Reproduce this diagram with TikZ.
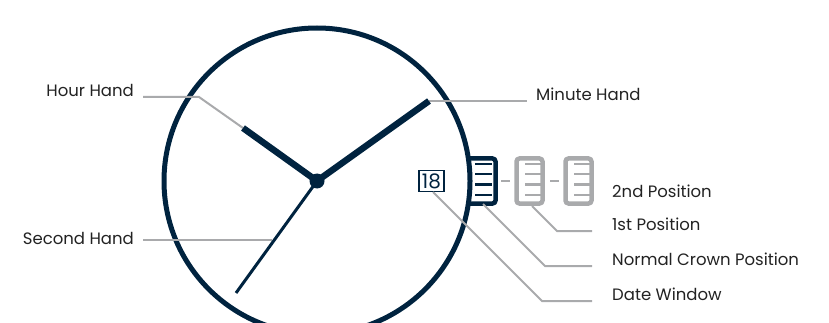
\documentclass[tikz,border=0pt]{standalone}
\usepackage{fontspec}
\setmainfont{Poppins}
\definecolor{navy}{HTML}{00233F}
\definecolor{lead}{HTML}{A9AAAC}
\definecolor{txt}{HTML}{222222}
\tikzset{
  x=1pt,y=-1pt,
  ring/.style={draw=navy,line width=5pt},
  leader/.style={draw=lead,line width=2pt},
  lab/.style={anchor=base west,inner sep=0pt,text=txt,font=\fontsize{16.5}{18}\selectfont},
  labr/.style={lab,anchor=base east},
  handhm/.style={draw=navy,line width=6.5pt},
  handsec/.style={draw=navy,line width=3pt},
  bar/.style={line width=2pt},
}
\newcommand{\crownbars}[2]{%
  \foreach \yy in {164.5,174.5,184.5,194.5}{\draw[bar,draw=#2] (#1+5,\yy) -- (#1+22,\yy);}%
}
\begin{document}
\begin{tikzpicture}
\useasboundingbox (0,0) rectangle (829,323);
\begin{scope}
\clip (0,0) rectangle (829,323);
\coordinate (hub) at (317,181);
\node[circle,draw=navy,line width=5pt,minimum size=306pt,inner sep=0pt] (dial) at (hub) {};
\end{scope}
% leaders
\coordinate (hl1) at (143,97); \coordinate (hl2) at (199,97); \coordinate (hl3) at (243,128);
\draw[leader] (hl1) -- (hl2) -- (hl3);
\coordinate (ml1) at (429,101); \coordinate (ml2) at (527,101);
\draw[leader] (ml1) -- (ml2);
\coordinate (sl1) at (143,240); \coordinate (sl2) at (272,240);
\draw[leader] (sl1) -- (sl2);
% hands
\draw[handhm] (hub) -- (243,128);
\draw[handhm] (hub) -- (429,101);
\draw[handsec] (hub) -- (236,293);
\fill[navy] (hub) circle (7.5);
% crowns
\draw[navy,line width=4.5pt,rounded corners=3pt] (470,158.5) -- (495.5,158.5) -- (495.5,203.5) -- (470,203.5);
\crownbars{470}{navy}
\node[draw=lead,line width=4.5pt,rounded corners=3pt,minimum width=26pt,minimum height=45pt,inner sep=0pt] (c1) at (529.5,181) {};
\crownbars{520}{lead}
\node[draw=lead,line width=4.5pt,rounded corners=3pt,minimum width=26pt,minimum height=45pt,inner sep=0pt] (c2) at (578.5,181) {};
\crownbars{569}{lead}
\draw[lead,line width=2.5pt] (501,181) -- (510,181);
\draw[lead,line width=2.5pt] (550,181) -- (559,181);
% date
\node[draw=navy,line width=1.5pt,minimum width=25pt,minimum height=21pt,inner sep=0pt,font=\fontsize{20}{20}\selectfont,text=navy] (date) at (431.5,181) {18};
% lower leaders
\coordinate (a1) at (532,206); \coordinate (a2) at (557,231); \coordinate (a3) at (592,231);
\draw[leader] (a1) -- (a2) -- (a3);
\coordinate (b1) at (483,204); \coordinate (b2) at (545,266); \coordinate (b3) at (592,266);
\draw[leader] (b1) -- (b2) -- (b3);
\coordinate (d1) at (433,192); \coordinate (d2) at (542,301); \coordinate (d3) at (592,301);
\draw[leader] (d1) -- (d2) -- (d3);
% labels
\node[labr] (t1) at (134,97) {Hour Hand};
\node[labr] (t2) at (134,244.5) {Second Hand};
\node[lab] (t3) at (536,101) {Minute Hand};
\node[lab] (t4) at (612,197.5) {2nd Position};
\node[lab] (t5) at (612,230.5) {1st Position};
\node[lab] (t6) at (612,265.5) {Normal Crown Position};
\node[lab] (t7) at (612,300.5) {Date Window};
\end{tikzpicture}
\end{document}
